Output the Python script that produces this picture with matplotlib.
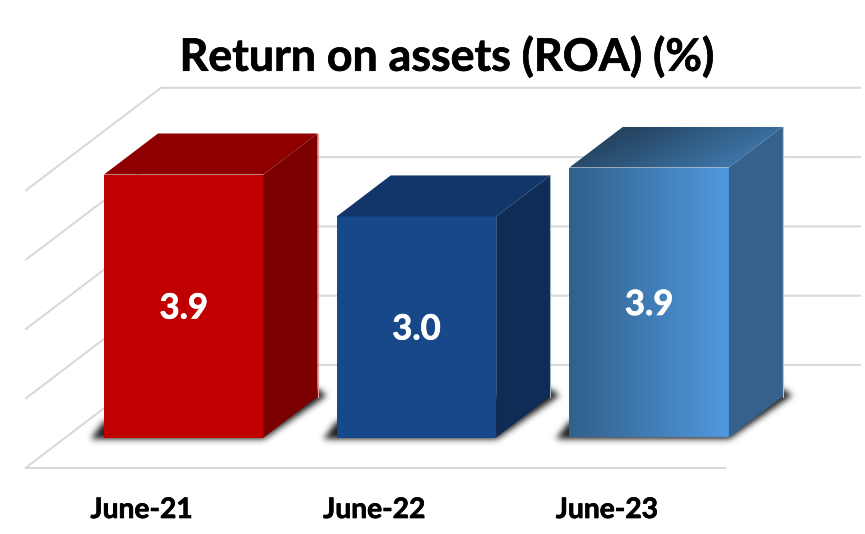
import numpy as np
import matplotlib
matplotlib.use("Agg")
import matplotlib.pyplot as plt
import matplotlib.patheffects as pe
from matplotlib.patches import Polygon
from matplotlib.path import Path

categories = ["June-21", "June-22", "June-23"]
value_labels = ["3.9", "3.0", "3.9"]
# heights as drawn, in gridline steps (the source chart is not proportional to its labels)
bar_heights = [3.795, 3.19, 3.896]
grid_levels = [0, 1, 2, 3, 4]

# pixel layout
W, H = 865, 534
unit = 69.3
base_y = 437.5
floor_y = 467.5
grid_left = 26
grid_right = 725
back_right = 860
grid_dx, grid_dy = 135, -102.5
bar_x0 = 104
bar_w = 159.5
bar_step = 232.7
depth_dx, depth_dy = 54, -41

solid = [
    {"front": "#c00000", "top": "#8e0000", "side": "#7c0000", "edge": "#e0a0a0"},
    {"front": "#17498a", "top": "#12356a", "side": "#0f2c56", "edge": "#9fb0c8"},
]

plt.rcParams["font.family"] = ["Lato", "DejaVu Sans"]
fig = plt.figure(figsize=(W / 100, H / 100), dpi=100)
ax = fig.add_axes([0, 0, 1, 1])
ax.axis("off")
heavy = [pe.withStroke(linewidth=0.5, foreground="black")]
heavy_w = [pe.withStroke(linewidth=0.5, foreground="white")]


def poly(pts, color, z, **kw):
    p = Polygon(pts, closed=True, facecolor=color, edgecolor="none", zorder=z, **kw)
    ax.add_patch(p)
    return p


def gradient(pts, colors, z, angle=0.0):
    # fill a polygon with a left to right (optionally tilted) colour ramp
    pts = np.array(pts)
    x0, y0 = pts.min(axis=0)
    x1, y1 = pts.max(axis=0)
    xx, yy = np.meshgrid(np.linspace(0, 1, 200), np.linspace(0, 1, 100))
    t = np.clip(xx + angle * (yy - 0.5), 0, 1)
    c0 = np.array(matplotlib.colors.to_rgb(colors[0]))
    c1 = np.array(matplotlib.colors.to_rgb(colors[1]))
    img = c0 + (c1 - c0) * t[..., None]
    im = ax.imshow(img, extent=[x0, x1, y1, y0], aspect="auto", zorder=z, interpolation="bilinear")
    clip = Polygon(pts, closed=True, facecolor="none", edgecolor="none", transform=ax.transData)
    ax.add_patch(clip)
    im.set_clip_path(clip)


def blurred_shadow(pts, sigma, strength, z):
    # rasterise the polygon, blur it and lay it down as a black alpha image
    pts = np.array(pts)
    pad = int(4 * sigma) + 2
    x0, y0 = np.floor(pts.min(axis=0)).astype(int) - pad
    x1, y1 = np.ceil(pts.max(axis=0)).astype(int) + pad
    xs = np.arange(x0, x1) + 0.5
    ys = np.arange(y0, y1) + 0.5
    gx, gy = np.meshgrid(xs, ys)
    mask = Path(pts).contains_points(np.c_[gx.ravel(), gy.ravel()]).reshape(gx.shape).astype(float)
    r = np.arange(-pad, pad + 1)
    kernel = np.exp(-r ** 2 / (2 * sigma ** 2))
    kernel /= kernel.sum()
    mask = np.apply_along_axis(lambda v: np.convolve(v, kernel, mode="same"), 0, mask)
    mask = np.apply_along_axis(lambda v: np.convolve(v, kernel, mode="same"), 1, mask)
    img = np.zeros(mask.shape + (4,))
    img[..., :3] = 0.1
    img[..., 3] = np.clip(mask * strength, 0, 1)
    ax.imshow(img, extent=[x0, x1, y1, y0], aspect="auto", zorder=z, interpolation="bilinear")


# gridlines
for lv in grid_levels:
    y = floor_y - lv * unit
    ax.plot([grid_left, grid_left + grid_dx, back_right], [y, y + grid_dy, y + grid_dy],
            color="#d9d9d9", lw=1.5, zorder=1, solid_joinstyle="miter")
ax.plot([grid_left, grid_right], [floor_y, floor_y], color="#d9d9d9", lw=1.5, zorder=1)

# bars
for i, h in enumerate(bar_heights):
    x0 = bar_x0 + i * bar_step
    x1 = x0 + bar_w
    top = base_y - h * unit

    # soft shadow at the foot of the bar
    shadow = [(x0 - 13, base_y + 1), (x1 + 1, base_y + 1),
              (x1 + depth_dx + 9, base_y + depth_dy - 1),
              (x1 + depth_dx, base_y + depth_dy - 8), (x0, base_y - 16)]
    blurred_shadow(shadow, 3.2, 1.0, 2)

    front = [(x0, top), (x1, top), (x1, base_y), (x0, base_y)]
    roof = [(x0, top), (x0 + depth_dx, top + depth_dy), (x1 + depth_dx, top + depth_dy), (x1, top)]
    side = [(x1, top), (x1 + depth_dx, top + depth_dy), (x1 + depth_dx, base_y + depth_dy), (x1, base_y)]

    if i < len(solid):
        s = solid[i]
        poly(front, s["front"], 3)
        poly(roof, s["top"], 3)
        poly(side, s["side"], 3)
        edge = s["edge"]
    else:
        gradient(front, ("#31608a", "#5199df"), 3)
        gradient(roof, ("#223f5a", "#4079ad"), 3, angle=0.4)
        poly(side, "#36618d", 3)
        edge = "#b5c8de"
    ax.plot([x1 + depth_dx, x1 + depth_dx], [top + depth_dy, base_y + depth_dy],
            color=edge, lw=0.8, zorder=3.1)
    ax.text((x0 + x1) / 2, (top + base_y) / 2 + 2.5, value_labels[i], color="white", fontsize=25,
            fontweight="bold", ha="center", va="center", zorder=4, path_effects=heavy_w)
    ax.text((x0 + x1) / 2 - 42, 510, categories[i], color="black", fontsize=20.3,
            fontweight="bold", ha="center", va="center", zorder=4, path_effects=heavy)

ax.text(447, 57, "Return on assets (ROA) (%)", color="black", fontsize=32.2,
        fontweight="bold", ha="center", va="center", zorder=4, path_effects=heavy)

ax.set_xlim(0, W)
ax.set_ylim(H, 0)
fig.savefig("out.png", dpi=100, facecolor="white")
